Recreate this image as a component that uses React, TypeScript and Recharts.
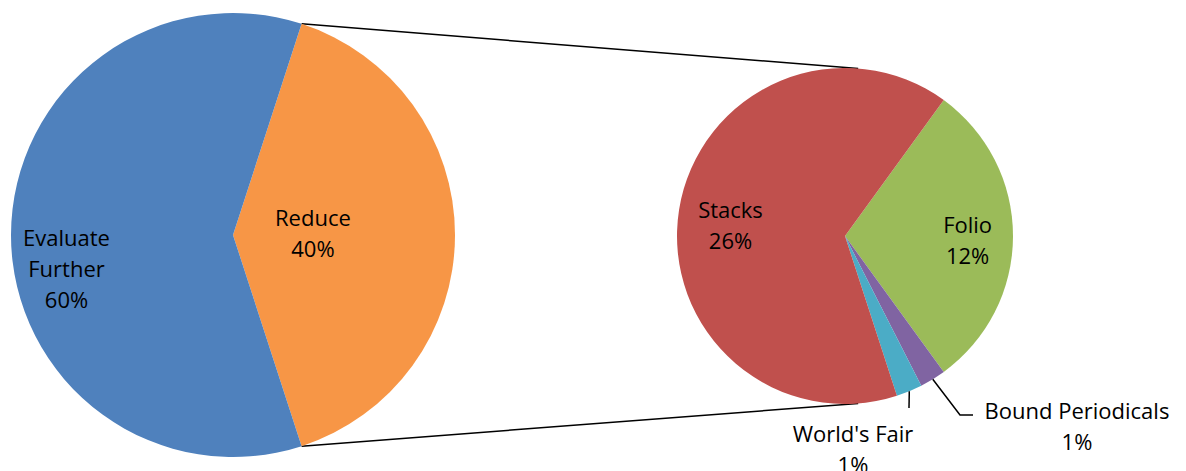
import React from "react";
import { PieChart, Pie, Cell, Customized } from "recharts";

const mainNames = ["Reduce", "Evaluate Further"];
const mainValues = [40, 60];
const mainLabels = [["Reduce", "40%"], ["Evaluate", "Further", "60%"]];
const mainColors = ["#F79646", "#4F81BD"];

const subNames = ["Folio", "Bound Periodicals", "World's Fair", "Stacks"];
const subValues = [12, 1, 1, 26];
const subLabels = [["Folio", "12%"], ["Bound Periodicals", "1%"], ["World's Fair", "1%"], ["Stacks", "26%"]];
const subColors = ["#9BBB59", "#8064A2", "#4BACC6", "#C0504D"];

const mainData = mainNames.map((n, i) => ({ name: n, value: mainValues[i] }));
const subData = subNames.map((n, i) => ({ name: n, value: subValues[i] }));

const FONT = "'Open Sans', Lato, sans-serif";
const FS = 22;
const LH = 31;

const L = { cx: 233, cy: 235, r: 222 };
const R = { cx: 845, cy: 236, r: 168 };

// label block-centre placement: radius factor along mid angle, plus extra vertical shift
const mainLabelLayout = [
  { k: 0.36, dy: -3 },
  { k: 0.75, dy: 33 },
];
const subLabelLayout = [
  { k: 0.73, dy: 3, leader: null },
  { k: 0, dy: 0, leader: { bend: [960, 415], end: [973, 415], text: [1077, 425] } },
  { k: 0, dy: 0, leader: { bend: [909, 408], end: [909, 408], text: [853, 448] } },
  { k: 0.69, dy: 7 },
];

const RAD = Math.PI / 180;
const polar = (cx: number, cy: number, r: number, a: number) => [cx + r * Math.cos(-a * RAD), cy + r * Math.sin(-a * RAD)];

function TextBlock({ x, y, lines }: { x: number; y: number; lines: string[] }) {
  const n = lines.length;
  return (
    <text x={x} y={y} textAnchor="middle" fontFamily={FONT} fontSize={FS} fill="#000">
      {lines.map((l, i) => (
        <tspan key={i} x={x} y={y + (i - (n - 1) / 2) * LH} dominantBaseline="central">
          {l}
        </tspan>
      ))}
    </text>
  );
}

const mainLabel = (p: any) => {
  const i = p.index;
  const lay = mainLabelLayout[i];
  const [x, y] = polar(p.cx, p.cy, p.outerRadius * lay.k, p.midAngle);
  return <TextBlock key={i} x={x} y={y + lay.dy} lines={mainLabels[i]} />;
};

const subLabel = (p: any) => {
  const i = p.index;
  const lay: any = subLabelLayout[i];
  if (lay.leader) {
    const [sx, sy] = polar(p.cx, p.cy, p.outerRadius, p.midAngle);
    const ld = lay.leader;
    return (
      <g key={i}>
        <polyline
          points={`${sx},${sy} ${ld.bend[0]},${ld.bend[1]} ${ld.end[0]},${ld.end[1]}`}
          fill="none"
          stroke="#000"
          strokeWidth={1.5}
        />
        <TextBlock x={ld.text[0]} y={ld.text[1]} lines={subLabels[i]} />
      </g>
    );
  }
  const [x, y] = polar(p.cx, p.cy, p.outerRadius * lay.k, p.midAngle);
  return <TextBlock key={i} x={x} y={y + lay.dy} lines={subLabels[i]} />;
};

const reduceHalf = (mainValues[0] / (mainValues[0] + mainValues[1])) * 180;

const Connectors = () => {
  const [x1, y1] = polar(L.cx, L.cy, L.r, reduceHalf);
  const [x2, y2] = polar(L.cx, L.cy, L.r, -reduceHalf);
  const [tx, ty] = polar(R.cx, R.cy, R.r, 85.5);
  const [bx, by] = polar(R.cx, R.cy, R.r, -85.5);
  return (
    <g>
      <line x1={x1} y1={y1} x2={tx} y2={ty} stroke="#000" strokeWidth={1.5} />
      <line x1={x2} y1={y2} x2={bx} y2={by} stroke="#000" strokeWidth={1.5} />
    </g>
  );
};

const subHalf = (subValues[0] / subValues.reduce((a, b) => a + b, 0)) * 180;

export default function App() {
  return (
    <div style={{ position: "absolute", left: 0, top: 0, width: 1186, height: 471, background: "#fff" }}>
      <PieChart width={1186} height={471} margin={{ top: 0, right: 0, bottom: 0, left: 0 }}>
        <Pie
          data={mainData}
          dataKey="value"
          nameKey="name"
          cx={L.cx}
          cy={L.cy}
          outerRadius={L.r}
          startAngle={reduceHalf}
          endAngle={reduceHalf - 360}
          stroke="none"
          label={mainLabel}
          labelLine={false}
          isAnimationActive={false}
        >
          {mainData.map((d, i) => (
            <Cell key={d.name} fill={mainColors[i]} />
          ))}
        </Pie>
        <Pie
          data={subData}
          dataKey="value"
          nameKey="name"
          cx={R.cx}
          cy={R.cy}
          outerRadius={R.r}
          startAngle={subHalf}
          endAngle={subHalf - 360}
          stroke="none"
          label={subLabel}
          labelLine={false}
          isAnimationActive={false}
        >
          {subData.map((d, i) => (
            <Cell key={d.name} fill={subColors[i]} />
          ))}
        </Pie>
        <Customized component={Connectors} />
      </PieChart>
    </div>
  );
}
